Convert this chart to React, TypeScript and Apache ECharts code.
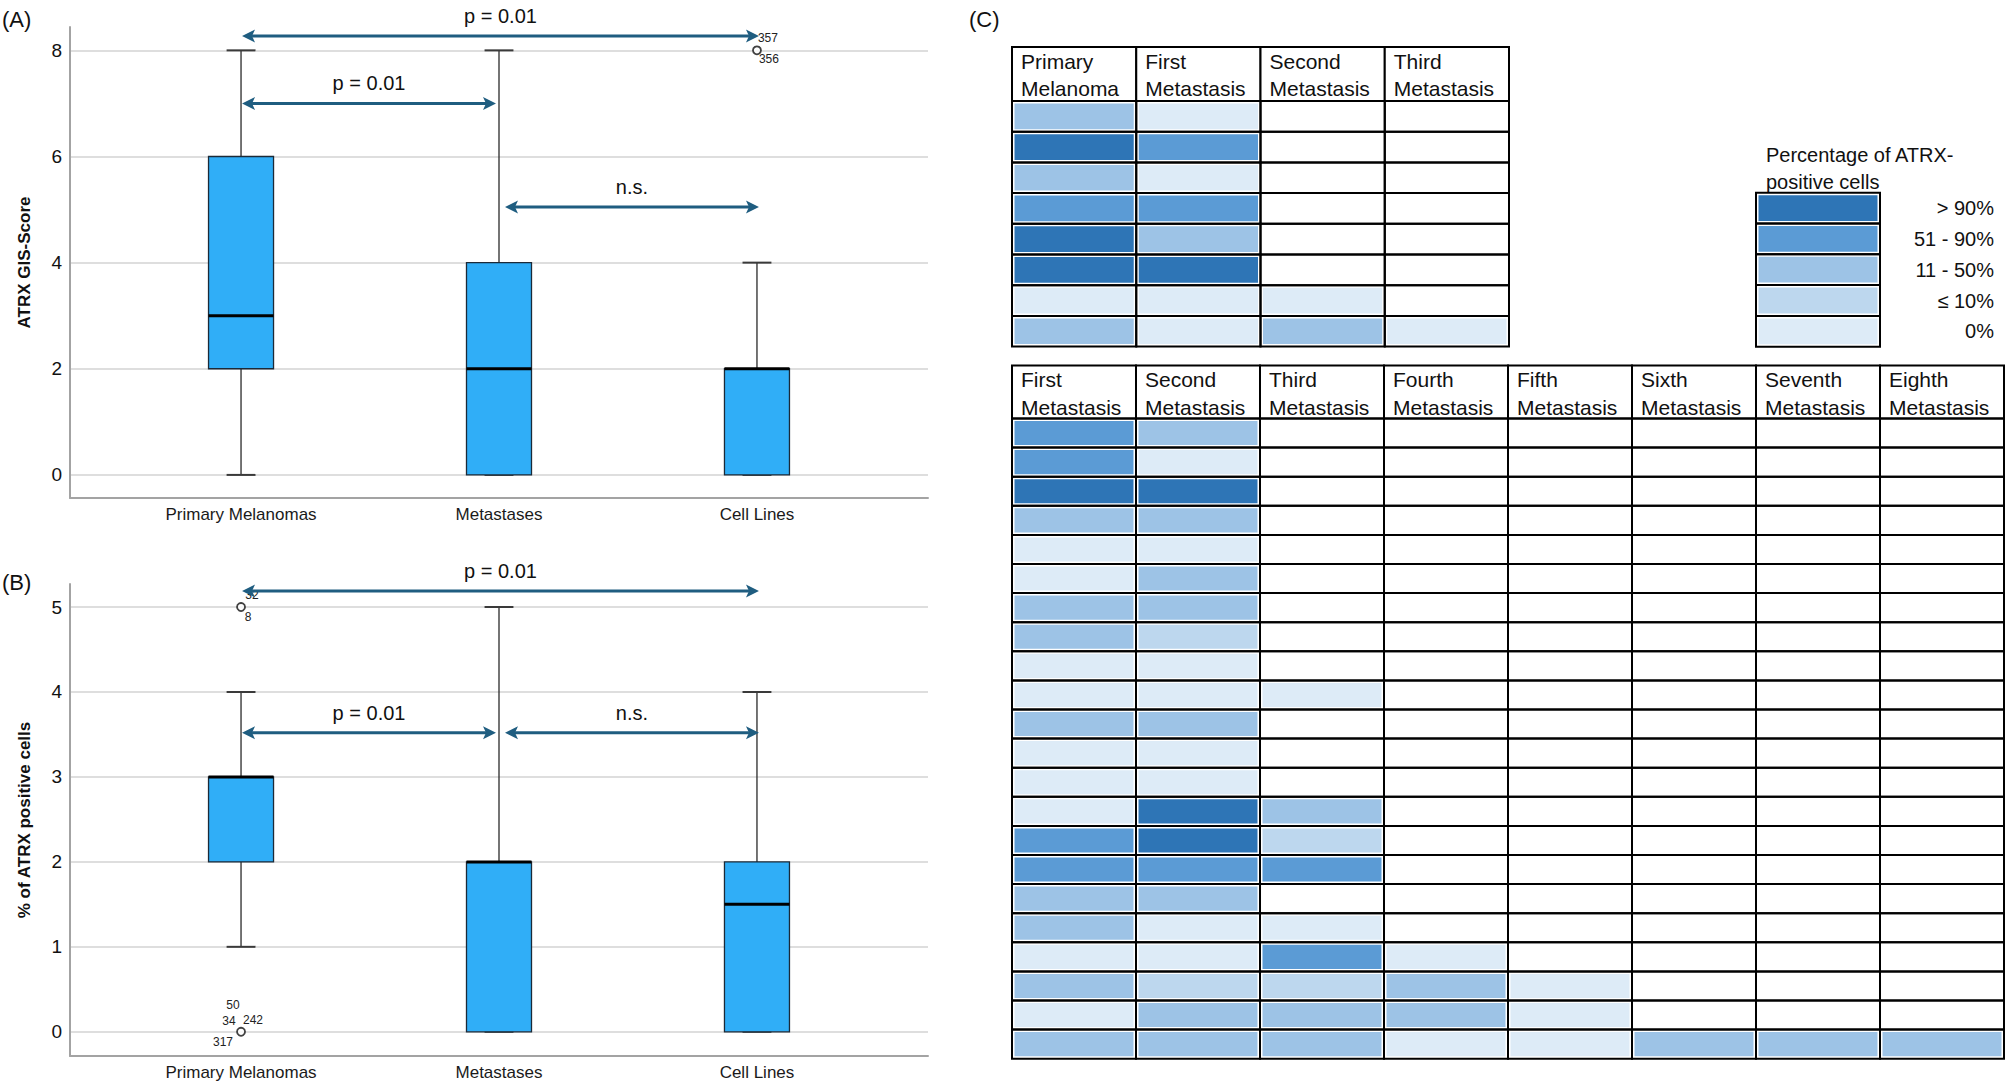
import React, { useEffect, useRef } from 'react';
import * as echarts from 'echarts';

const FONT = "'Liberation Sans', Arial, Helvetica, sans-serif";

// ---------------- Panels A & B : box plots ----------------
const groupNames = ['Primary Melanomas', 'Metastases', 'Cell Lines'];
const groupPositions = [1, 2, 3];

// [min, Q1, median, Q3, max]
const gisStats = [
  [0, 2, 3, 6, 8],
  [0, 0, 2, 4, 8],
  [0, 0, 2, 2, 4],
];
const pctStats = [
  [1, 2, 3, 3, 4],
  [0, 0, 2, 2, 5],
  [0, 0, 1.5, 2, 4],
];

// outliers [group position, value]
const gisOutliers = [[3, 8]];
const pctOutliers = [[1, 5], [1, 0]];

// outlier case ids [group position, value, id]
const gisOutlierIds: [number, number, string][] = [
  [3, 8, '357'],
  [3, 8, '356'],
];
const pctOutlierIds: [number, number, string][] = [
  [1, 5, '32'],
  [1, 5, '8'],
  [1, 0, '50'],
  [1, 0, '34'],
  [1, 0, '242'],
  [1, 0, '317'],
];

// comparisons [from group, to group, y level, text]
const gisComparisons: [number, number, number, string][] = [
  [1, 3, 8.27, 'p = 0.01'],
  [1, 2, 7.0, 'p = 0.01'],
  [2, 3, 5.05, 'n.s.'],
];
const pctComparisons: [number, number, number, string][] = [
  [1, 3, 5.19, 'p = 0.01'],
  [1, 2, 3.52, 'p = 0.01'],
  [2, 3, 3.52, 'n.s.'],
];

// ---------------- Panel C : tables ----------------
const levelLabels = ['0%', '≤ 10%', '11 - 50%', '51 - 90%', '> 90%'];
const levelColors = ['#DDEBF7', '#BDD7EE', '#9DC3E6', '#5B9BD5', '#2E75B6'];

const table1Columns = ['Primary\nMelanoma', 'First\nMetastasis', 'Second\nMetastasis', 'Third\nMetastasis'];
// level index (0 = 0%, 4 = >90%), null = no sample
const table1Levels: (number | null)[][] = [
  [2, 0, null, null],
  [4, 3, null, null],
  [2, 0, null, null],
  [3, 3, null, null],
  [4, 2, null, null],
  [4, 4, null, null],
  [0, 0, 0, null],
  [2, 0, 2, 0],
];

const table2Columns = [
  'First\nMetastasis', 'Second\nMetastasis', 'Third\nMetastasis', 'Fourth\nMetastasis',
  'Fifth\nMetastasis', 'Sixth\nMetastasis', 'Seventh\nMetastasis', 'Eighth\nMetastasis',
];
const table2Levels: (number | null)[][] = [
  [3, 2],
  [3, 0],
  [4, 4],
  [2, 2],
  [0, 0],
  [0, 2],
  [2, 2],
  [2, 1],
  [0, 0],
  [0, 0, 0],
  [2, 2],
  [0, 0],
  [0, 0],
  [0, 4, 2],
  [3, 4, 1],
  [3, 3, 3],
  [2, 2],
  [2, 0, 0],
  [0, 0, 3, 0],
  [2, 1, 1, 2, 0],
  [0, 2, 2, 2, 0],
  [2, 2, 2, 0, 0, 2, 2, 2],
];

const legendTitle = 'Percentage of ATRX-\npositive cells';

// ---------------- layout / style constants ----------------
const AXIS_GRAY = '#a3a3a3';
const GRID_GRAY = '#d3d3d3';
const BOX_FILL = '#30aef7';
const ARROW = '#1f5d80';
const BOX_FRAC = 0.252;
const CAP_FRAC = 0.112;
const CELL_INSET = 2.5;

const outlierLabelOffsets: Record<string, [number, number]> = {
  '357': [11, -12],
  '356': [12, 9],
  '32': [11, -12],
  '8': [7, 10],
  '50': [-8, -27],
  '34': [-12, -11],
  '242': [12, -12],
  '317': [-18, 10],
};

const intLabel = (v: number) => (Math.abs(v - Math.round(v)) < 1e-9 ? String(Math.round(v)) : '');
const groupLabel = (v: number) => {
  const i = groupPositions.findIndex((g) => Math.abs(g - v) < 1e-9);
  return i >= 0 ? groupNames[i] : '';
};

function boxRender(params: any, api: any) {
  const x = api.value(0);
  const vals = [1, 2, 3, 4, 5].map((i) => api.value(i));
  const unit = api.size([1, 0])[0];
  const hw = (unit * BOX_FRAC) / 2;
  const cw = (unit * CAP_FRAC) / 2;
  const p = vals.map((v: number) => api.coord([x, v]));
  const cx = p[0][0];
  const [pMin, pQ1, pMed, pQ3, pMax] = p;
  const whisker = { stroke: '#2a2a2a', lineWidth: 1.3 };
  const cap = { stroke: '#3a3a3a', lineWidth: 2 };
  return {
    type: 'group',
    children: [
      { type: 'line', shape: { x1: cx, y1: pMin[1], x2: cx, y2: pQ1[1] }, style: whisker },
      { type: 'line', shape: { x1: cx, y1: pQ3[1], x2: cx, y2: pMax[1] }, style: whisker },
      { type: 'line', shape: { x1: cx - cw, y1: pMin[1], x2: cx + cw, y2: pMin[1] }, style: cap },
      { type: 'line', shape: { x1: cx - cw, y1: pMax[1], x2: cx + cw, y2: pMax[1] }, style: cap },
      {
        type: 'rect',
        shape: { x: cx - hw, y: pQ3[1], width: 2 * hw, height: pQ1[1] - pQ3[1] },
        style: { fill: BOX_FILL, stroke: '#1b2a38', lineWidth: 1.3 },
      },
      { type: 'line', shape: { x1: cx - hw, y1: pMed[1], x2: cx + hw, y2: pMed[1] }, style: { stroke: '#000', lineWidth: 3 } },
    ],
  };
}

function comparisonRender(comps: [number, number, number, string][]) {
  return (params: any, api: any) => {
    const c = comps[params.dataIndex];
    const a = api.coord([c[0], c[2]]);
    const b = api.coord([c[1], c[2]]);
    const left = a[0] + (c[0] === 2 ? 6 : 1);
    const right = b[0] + (c[1] === 2 ? -3 : 2);
    const y = a[1];
    const L = 13;
    const H = 6.5;
    return {
      type: 'group',
      children: [
        { type: 'line', shape: { x1: left + L - 3, y1: y, x2: right - L + 3, y2: y }, style: { stroke: ARROW, lineWidth: 3 } },
        {
          type: 'polygon',
          shape: { points: [[left, y], [left + L, y - H], [left + L - 3, y], [left + L, y + H]] },
          style: { fill: ARROW },
        },
        {
          type: 'polygon',
          shape: { points: [[right, y], [right - L, y - H], [right - L + 3, y], [right - L, y + H]] },
          style: { fill: ARROW },
        },
        {
          type: 'text',
          style: {
            text: c[3], x: (left + right) / 2, y: y - 20, fill: '#111', fontSize: 20, fontFamily: FONT,
            align: 'center', verticalAlign: 'middle', textAlign: 'center', textVerticalAlign: 'middle',
          },
        },
      ],
    };
  };
}

function idLabelRender(items: [number, number, string][]) {
  return (params: any, api: any) => {
    const it = items[params.dataIndex];
    const p = api.coord([it[0], it[1]]);
    const off = outlierLabelOffsets[it[2]] || [10, -10];
    return {
      type: 'text',
      style: {
        text: it[2], x: p[0] + off[0], y: p[1] + off[1], fill: '#222', fontSize: 12, fontFamily: FONT,
        align: 'center', verticalAlign: 'middle', textAlign: 'center', textVerticalAlign: 'middle',
      },
    };
  };
}

function cellRender(params: any, api: any) {
  const col = api.value(0);
  const row = api.value(1);
  const lvl = api.value(2);
  const c = api.coord([col, row]);
  const s = api.size([1, 1]);
  const x = c[0] - s[0] / 2;
  const y = c[1] - s[1] / 2;
  const children: any[] = [];
  if (lvl >= 0) {
    children.push({
      type: 'rect',
      shape: { x: x + CELL_INSET, y: y + CELL_INSET, width: s[0] - 2 * CELL_INSET, height: s[1] - 2 * CELL_INSET },
      style: { fill: levelColors[lvl] },
    });
  }
  children.push({ type: 'rect', shape: { x, y, width: s[0], height: s[1] }, style: { fill: 'none', stroke: '#000', lineWidth: 2 } });
  return { type: 'group', children };
}

function headerRender(cols: string[]) {
  return (params: any, api: any) => {
    const c = api.coord([api.value(0), 0]);
    const s = api.size([1, 1]);
    const x = c[0] - s[0] / 2;
    const y = c[1] - s[1] / 2;
    return {
      type: 'group',
      children: [
        { type: 'rect', shape: { x, y, width: s[0], height: s[1] }, style: { fill: '#fff', stroke: '#000', lineWidth: 2 } },
        {
          type: 'text',
          style: {
            text: cols[params.dataIndex], x: x + 9, y: y + 0.5, fill: '#111', fontSize: 21, fontFamily: FONT, lineHeight: 27.5,
            align: 'left', verticalAlign: 'top', textAlign: 'left', textVerticalAlign: 'top',
          },
        },
      ],
    };
  };
}

function tableData(levels: (number | null)[][], ncols: number) {
  const out: number[][] = [];
  levels.forEach((row, r) => {
    for (let c = 0; c < ncols; c++) {
      const v = row[c];
      out.push([c, r, v === null || v === undefined ? -1 : v]);
    }
  });
  return out;
}

function boxXAxis(gridIndex: number) {
  return {
    gridIndex,
    type: 'value',
    min: 0.337,
    max: 3.663,
    axisLine: { show: true, onZero: false, lineStyle: { color: AXIS_GRAY, width: 2 } },
    axisTick: { show: false },
    splitLine: { show: false },
    axisLabel: { customValues: groupPositions, formatter: groupLabel, fontSize: 17, color: '#1a1a1a', fontFamily: FONT, margin: 8 },
  };
}

function boxYAxis(gridIndex: number, min: number, max: number, name: string) {
  return {
    gridIndex,
    type: 'value',
    min,
    max,
    axisLine: { show: true, onZero: false, lineStyle: { color: AXIS_GRAY, width: 2 } },
    axisTick: { show: false },
    splitLine: { show: true, showMinLine: false, showMaxLine: false, lineStyle: { color: GRID_GRAY, width: 1.5 } },
    axisLabel: { formatter: intLabel, fontSize: 19, color: '#111', fontFamily: FONT, margin: 8 },
    name,
    nameLocation: 'middle',
    nameGap: 37,
    nameTextStyle: { fontSize: 17, fontWeight: 'bold', color: '#111', fontFamily: FONT },
  };
}

function hiddenCat(gridIndex: number, data: string[], inverse = false) {
  return { gridIndex, type: 'category', data, inverse, show: false };
}

function buildOption() {
  const legendOrder = [...levelLabels].reverse();
  const gridCommon = { outerBoundsMode: 'none', containLabel: false };
  return {
    animation: false,
    backgroundColor: '#ffffff',
    grid: [
      { ...gridCommon, left: 70, top: 27, width: 858, height: 471 },
      { ...gridCommon, left: 70, top: 584, width: 858, height: 472 },
      { ...gridCommon, left: 1012, top: 47, width: 497, height: 54 },
      { ...gridCommon, left: 1012, top: 101, width: 497, height: 245.6 },
      { ...gridCommon, left: 1012, top: 365.5, width: 992, height: 53 },
      { ...gridCommon, left: 1012, top: 418.5, width: 992, height: 640.2 },
      { ...gridCommon, left: 1756, top: 192.7, width: 124, height: 154 },
    ],
    xAxis: [
      boxXAxis(0),
      boxXAxis(1),
      hiddenCat(2, table1Columns),
      hiddenCat(3, table1Columns),
      hiddenCat(4, table2Columns),
      hiddenCat(5, table2Columns),
      hiddenCat(6, ['key']),
    ],
    yAxis: [
      boxYAxis(0, -0.435, 8.44, 'ATRX GIS-Score'),
      boxYAxis(1, -0.285, 5.271, '% of ATRX positive cells'),
      hiddenCat(2, ['header']),
      hiddenCat(3, table1Levels.map((_, i) => String(i + 1)), true),
      hiddenCat(4, ['header']),
      hiddenCat(5, table2Levels.map((_, i) => String(i + 1)), true),
      {
        gridIndex: 6,
        type: 'category',
        data: legendOrder,
        inverse: true,
        position: 'right',
        axisLine: { show: false },
        axisTick: { show: false },
        splitLine: { show: false },
        axisLabel: { align: 'right', margin: 114, fontSize: 20, color: '#111', fontFamily: FONT },
      },
    ],
    graphic: [
      { type: 'text', left: 2, top: 8, style: { text: '(A)', fontSize: 22, fontFamily: FONT, fill: '#111' } },
      { type: 'text', left: 2, top: 571, style: { text: '(B)', fontSize: 22, fontFamily: FONT, fill: '#111' } },
      { type: 'text', left: 969, top: 8, style: { text: '(C)', fontSize: 22, fontFamily: FONT, fill: '#111' } },
      {
        type: 'text', left: 1766, top: 141.6,
        style: { text: legendTitle, fontSize: 20, lineHeight: 26.7, fontFamily: FONT, fill: '#111' },
      },
    ],
    series: [
      // Panel A
      {
        type: 'custom', xAxisIndex: 0, yAxisIndex: 0, z: 2,
        renderItem: boxRender,
        encode: { x: 0, y: [1, 2, 3, 4, 5] },
        data: gisStats.map((s, i) => [groupPositions[i], ...s]),
      },
      {
        type: 'scatter', xAxisIndex: 0, yAxisIndex: 0, z: 3, clip: false,
        symbol: 'circle', symbolSize: 8,
        itemStyle: { color: '#fff', borderColor: '#111', borderWidth: 1.8 },
        data: gisOutliers,
      },
      {
        type: 'custom', xAxisIndex: 0, yAxisIndex: 0, z: 3,
        renderItem: idLabelRender(gisOutlierIds),
        data: gisOutlierIds.map((d) => [d[0], d[1]]),
      },
      {
        type: 'custom', xAxisIndex: 0, yAxisIndex: 0, z: 5,
        renderItem: comparisonRender(gisComparisons),
        data: gisComparisons.map((c) => [c[0], c[2]]),
      },
      // Panel B
      {
        type: 'custom', xAxisIndex: 1, yAxisIndex: 1, z: 2,
        renderItem: boxRender,
        encode: { x: 0, y: [1, 2, 3, 4, 5] },
        data: pctStats.map((s, i) => [groupPositions[i], ...s]),
      },
      {
        type: 'scatter', xAxisIndex: 1, yAxisIndex: 1, z: 3, clip: false,
        symbol: 'circle', symbolSize: 8,
        itemStyle: { color: '#fff', borderColor: '#111', borderWidth: 1.8 },
        data: pctOutliers,
      },
      {
        type: 'custom', xAxisIndex: 1, yAxisIndex: 1, z: 3,
        renderItem: idLabelRender(pctOutlierIds),
        data: pctOutlierIds.map((d) => [d[0], d[1]]),
      },
      {
        type: 'custom', xAxisIndex: 1, yAxisIndex: 1, z: 5,
        renderItem: comparisonRender(pctComparisons),
        data: pctComparisons.map((c) => [c[0], c[2]]),
      },
      // Panel C - table 1
      {
        type: 'custom', xAxisIndex: 2, yAxisIndex: 2,
        renderItem: headerRender(table1Columns),
        data: table1Columns.map((_, i) => [i, 0]),
      },
      {
        type: 'custom', xAxisIndex: 3, yAxisIndex: 3,
        renderItem: cellRender,
        data: tableData(table1Levels, table1Columns.length),
      },
      // Panel C - table 2
      {
        type: 'custom', xAxisIndex: 4, yAxisIndex: 4,
        renderItem: headerRender(table2Columns),
        data: table2Columns.map((_, i) => [i, 0]),
      },
      {
        type: 'custom', xAxisIndex: 5, yAxisIndex: 5,
        renderItem: cellRender,
        data: tableData(table2Levels, table2Columns.length),
      },
      // Legend key
      {
        type: 'custom', xAxisIndex: 6, yAxisIndex: 6,
        renderItem: cellRender,
        data: legendOrder.map((_, r) => [0, r, levelLabels.length - 1 - r]),
      },
    ],
  };
}

export default function App() {
  const ref = useRef<HTMLDivElement>(null);
  useEffect(() => {
    if (!ref.current) return;
    const chart = echarts.init(ref.current, null, { renderer: 'svg' });
    chart.setOption(buildOption() as any);
    return () => chart.dispose();
  }, []);
  return (
    <div
      ref={ref}
      style={{ position: 'absolute', left: 0, top: 0, width: 2006, height: 1082, background: '#fff' }}
    />
  );
}
